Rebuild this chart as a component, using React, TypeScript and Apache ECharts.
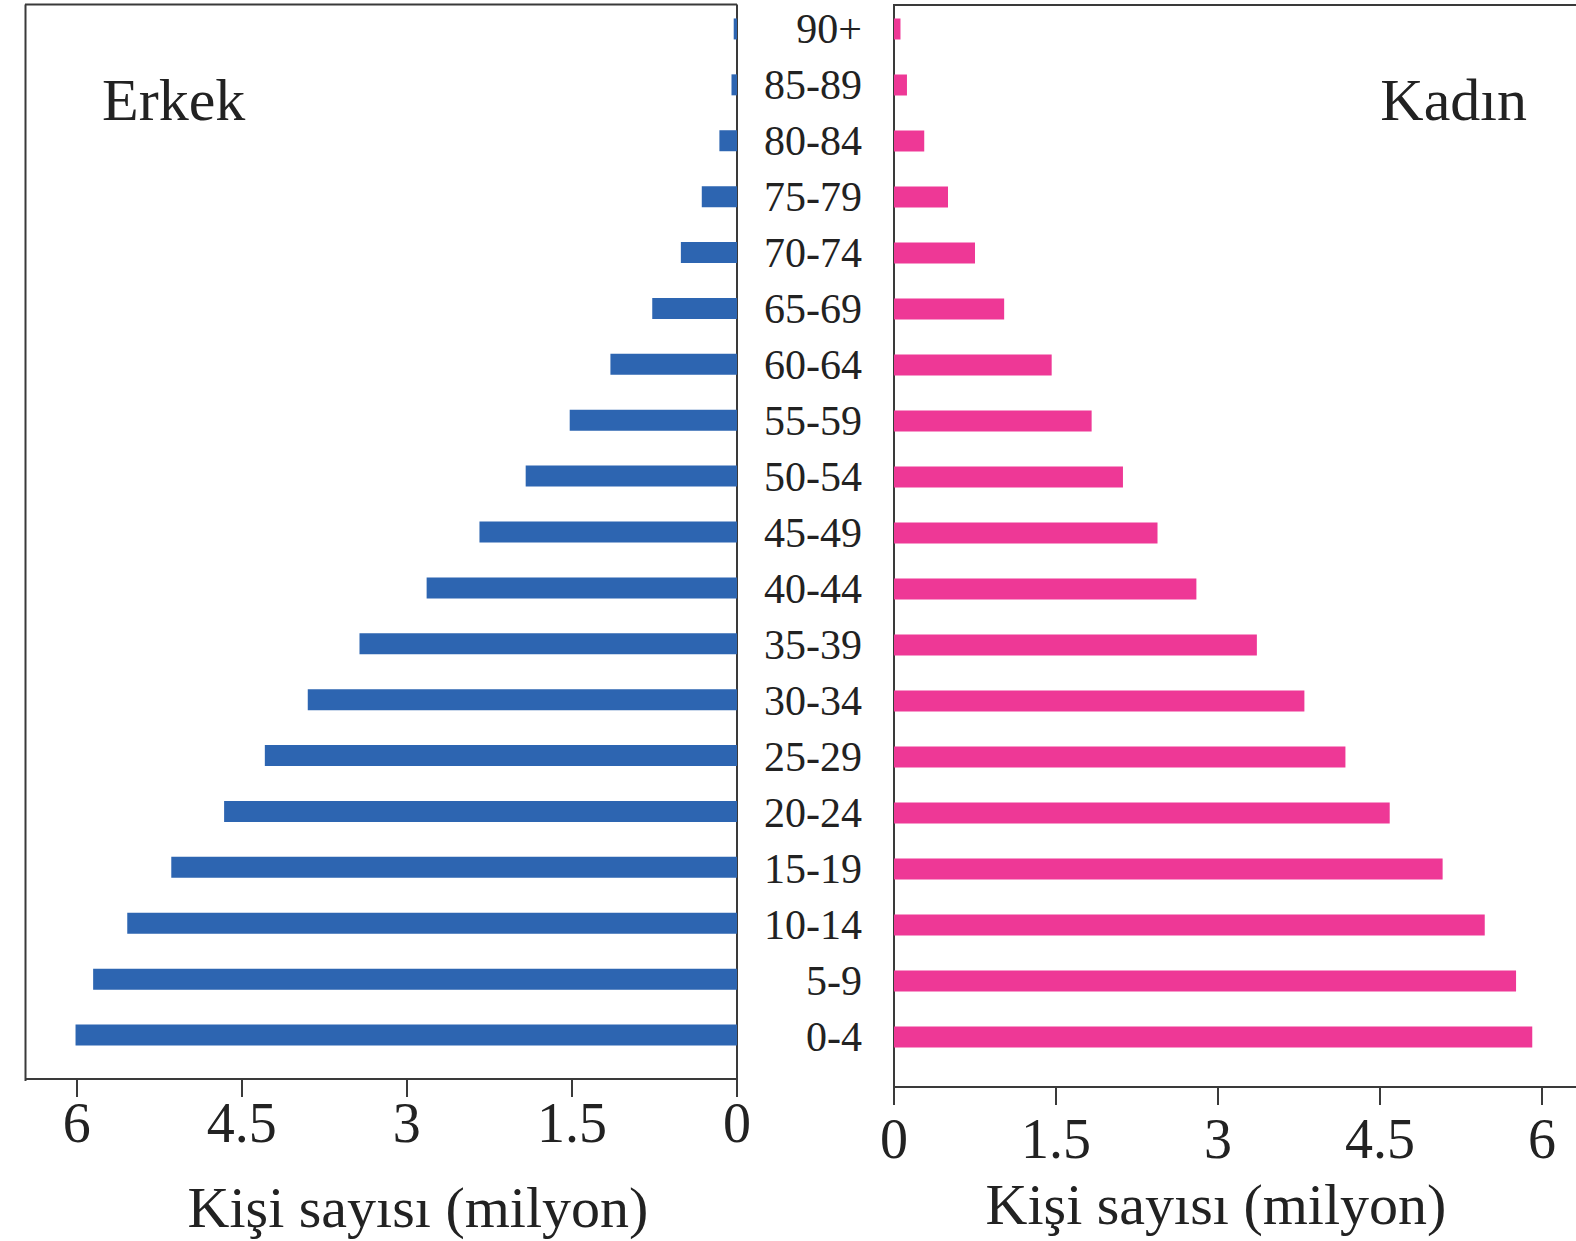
import React, { useEffect, useRef } from "react";
import * as echarts from "echarts";

const ages = ["0-4", "5-9", "10-14", "15-19", "20-24", "25-29", "30-34", "35-39", "40-44", "45-49", "50-54", "55-59", "60-64", "65-69", "70-74", "75-79", "80-84", "85-89", "90+"];
const male = [6.01, 5.85, 5.54, 5.14, 4.66, 4.29, 3.9, 3.43, 2.82, 2.34, 1.92, 1.52, 1.15, 0.77, 0.51, 0.32, 0.16, 0.05, 0.03];
const female = [5.91, 5.76, 5.47, 5.08, 4.59, 4.18, 3.8, 3.36, 2.8, 2.44, 2.12, 1.83, 1.46, 1.02, 0.75, 0.5, 0.28, 0.12, 0.06];
const tickValues = [0, 1.5, 3, 4.5, 6];
const axisName = "Kişi sayısı (milyon)";
const maleTitle = "Erkek";
const femaleTitle = "Kadın";

const FONT = "Liberation Serif";
const LINE = "#3a3a3a";
const TEXT = "#222222";

export default function App() {
  const ref = useRef<HTMLDivElement>(null);
  useEffect(() => {
    if (!ref.current) return;
    const chart = echarts.init(ref.current, undefined, { renderer: "svg" });
    const gridTop = 1;
    const gridH = 1064;
    const L = { left: 26, right: 737 };
    const R = { left: 894, right: 1576 };
    const lineStyle = { stroke: LINE, lineWidth: 2 };
    const xAxisCommon = {
      type: "value",
      min: 0,
      splitLine: { show: false },
      axisLine: { show: true, lineStyle: { color: LINE, width: 2 } },
      axisTick: { show: true, length: 18, customValues: tickValues, lineStyle: { color: LINE, width: 2 } },
      nameLocation: "middle",
    };
    chart.setOption({
      animation: false,
      grid: [
        { left: L.left, top: gridTop, width: L.right - L.left, height: gridH },
        { left: R.left, top: gridTop, width: R.right - R.left, height: gridH },
      ],
      xAxis: [
        {
          ...xAxisCommon,
          gridIndex: 0,
          inverse: true,
          max: 6.46,
          offset: 16,
          axisLabel: { customValues: tickValues, margin: 16, fontFamily: FONT, fontSize: 56, color: TEXT },
          name: axisName,
          nameGap: 99,
          nameTextStyle: { fontFamily: FONT, fontSize: 58, color: TEXT, padding: [0, 0, 0, 73] },
        },
        {
          ...xAxisCommon,
          gridIndex: 1,
          max: 6.315,
          offset: 22,
          axisLabel: { customValues: tickValues, margin: 24, fontFamily: FONT, fontSize: 56, color: TEXT },
          name: axisName,
          nameGap: 88,
          nameTextStyle: { fontFamily: FONT, fontSize: 58, color: TEXT, padding: [0, 38, 0, 0] },
        },
      ],
      yAxis: [
        {
          type: "category",
          gridIndex: 0,
          data: ages,
          position: "right",
          axisLine: { show: false },
          axisTick: { show: false },
          axisLabel: { show: false },
        },
        {
          type: "category",
          gridIndex: 1,
          data: ages,
          position: "left",
          axisLine: { show: false },
          axisTick: { show: false },
          axisLabel: { show: true, margin: 32, fontFamily: FONT, fontSize: 42, color: TEXT },
        },
      ],
      series: [
        {
          type: "bar",
          name: maleTitle,
          xAxisIndex: 0,
          yAxisIndex: 0,
          data: male,
          barWidth: 21,
          itemStyle: { color: "#2d65b1" },
        },
        {
          type: "bar",
          name: femaleTitle,
          xAxisIndex: 1,
          yAxisIndex: 1,
          data: female,
          barWidth: 21,
          itemStyle: { color: "#ee3896" },
        },
      ],
      graphic: [
        { type: "line", shape: { x1: 25, y1: 4.5, x2: L.right, y2: 4.5 }, style: lineStyle, silent: true },
        { type: "line", shape: { x1: 25.5, y1: 4.5, x2: 25.5, y2: 1081 }, style: lineStyle, silent: true },
        { type: "line", shape: { x1: L.right, y1: 4.5, x2: L.right, y2: 1081 }, style: lineStyle, silent: true },
        { type: "line", shape: { x1: R.left - 1, y1: 5, x2: R.right, y2: 5 }, style: lineStyle, silent: true },
        { type: "line", shape: { x1: R.left, y1: 5, x2: R.left, y2: 1087 }, style: lineStyle, silent: true },
        {
          type: "text",
          x: 102,
          y: 100,
          style: { text: maleTitle, fontFamily: FONT, fontSize: 60, fill: TEXT, align: "left", verticalAlign: "middle" },
        },
        {
          type: "text",
          x: 1527,
          y: 100,
          style: { text: femaleTitle, fontFamily: FONT, fontSize: 60, fill: TEXT, align: "right", verticalAlign: "middle" },
        },
      ],
    });
    return () => chart.dispose();
  }, []);
  return (
    <div
      ref={ref}
      style={{ position: "absolute", left: 0, top: 0, width: 1576, height: 1241, background: "#ffffff" }}
    />
  );
}
